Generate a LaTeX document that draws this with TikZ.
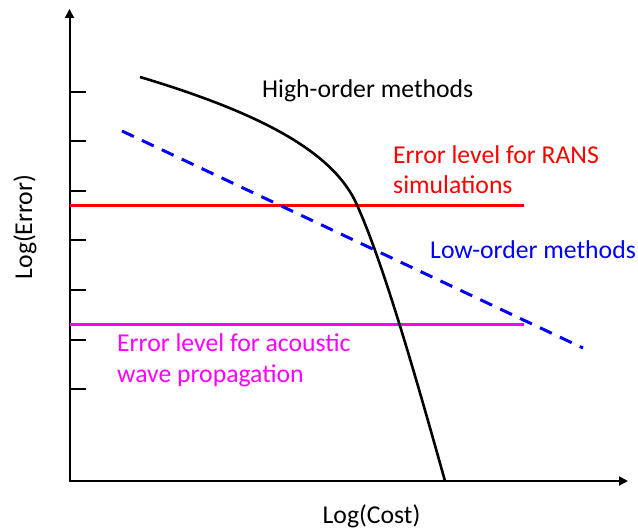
\documentclass[tikz,border=0pt]{standalone}
\usepackage{fontspec}
\setmainfont{Carlito}
\usetikzlibrary{arrows.meta}
\definecolor{lvlred}{RGB}{255,0,0}
\definecolor{lvlmag}{RGB}{255,0,255}
\definecolor{lowblue}{RGB}{0,0,255}
\begin{document}
\begin{tikzpicture}[x=1bp,y=-1bp,
  lbl/.style={font=\fontsize{25.8}{31}\selectfont, inner sep=0pt},
  axisline/.style={line width=2bp, -{Triangle[length=9bp,width=9bp]}},
  tickmark/.style={line width=1.3bp},
  levelline/.style={line width=3bp},
]
\useasboundingbox (0,0) rectangle (638,530);
% axes
\coordinate (O) at (69.5,481);
\coordinate (ytop) at (69.5,9);
\coordinate (xend) at (628,481);
\draw[axisline] (O) -- (ytop);
\draw[axisline] (68.5,481) -- (xend);
\foreach \y in {92,141,191,240,290,340,389}
  \draw[tickmark] (69.5,\y) -- (85.5,\y);
% error levels
\coordinate (r1) at (69.5,205.5);
\coordinate (r2) at (524,205.5);
\draw[levelline, lvlred] (r1) -- (r2);
\coordinate (m1) at (69.5,324);
\coordinate (m2) at (524,324);
\draw[levelline, lvlmag] (m1) -- (m2);
% low-order methods
\coordinate (b1) at (122,131);
\coordinate (b2) at (583,348);
\draw[line width=3bp, lowblue, dash pattern=on 13bp off 9bp] (b1) -- (b2);
% high-order methods
\coordinate (h1) at (140,77);
\coordinate (h2) at (357,205);
\coordinate (h3) at (445,481);
\draw[line width=2.6bp, black] (h1) .. controls (255,111.5) and (333,150) .. (h2)
  .. controls (385,267) and (420,392) .. (h3);
% labels
\node[lbl, anchor=base west] (ho) at (262,98) {High-order methods};
\node[lbl, anchor=base west, text=lowblue] (lo) at (430,258) {Low-order methods};
\node[lbl, anchor=base west, text=lvlred, align=left] (rans) at (393,194) {Error level for RANS\\simulations};
\node[lbl, anchor=base west, text=lvlmag, align=left] (ac) at (117,382) {Error level for acoustic\\wave propagation};
\node[lbl, anchor=base] (xl) at (371.5,523) {Log(Cost)};
\node[lbl, rotate=90] (yl) at (25,227) {Log(Error)};
\end{tikzpicture}
\end{document}
